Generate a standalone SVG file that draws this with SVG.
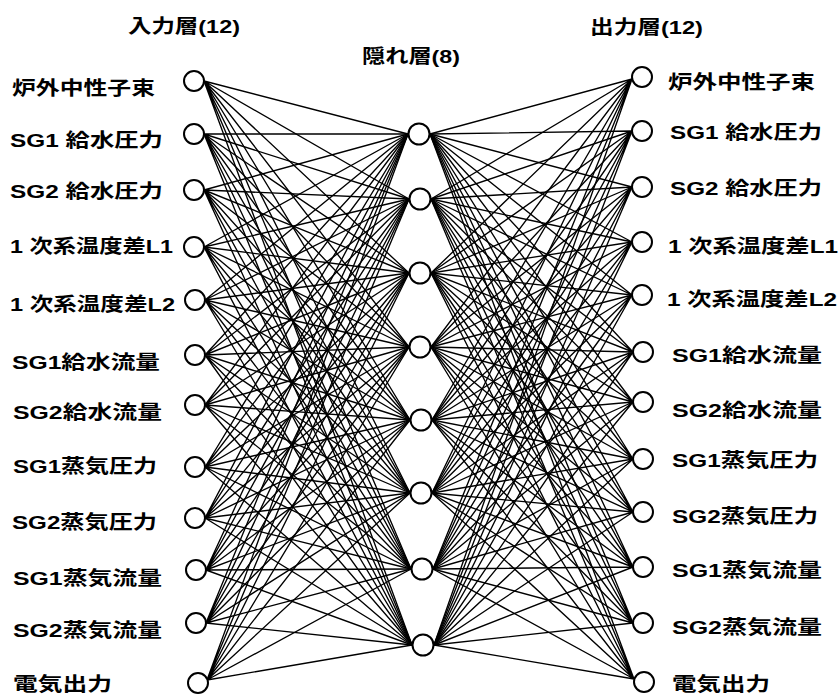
<svg xmlns="http://www.w3.org/2000/svg" width="840" height="696" viewBox="0 0 840 696">
<style>
.w{stroke:#000;stroke-width:1.35;fill:none}
.c{fill:#fff;stroke:#000;stroke-width:2}
.t{font-family:"Liberation Sans","Noto Sans CJK JP",sans-serif;font-size:19px;font-weight:bold;fill:#000}
</style>
<rect width="840" height="696" fill="#fff"/>
<g id="headers">
<text class="t" x="128" y="33" textLength="112" lengthAdjust="spacingAndGlyphs">入力層(12)</text>
<text class="t" x="362" y="63" textLength="98" lengthAdjust="spacingAndGlyphs">隠れ層(8)</text>
<text class="t" x="590" y="34" textLength="113" lengthAdjust="spacingAndGlyphs">出力層(12)</text>
</g>
<g id="connectors">
<path class="w" d="M204 81 408 134M204 81 409 199M204 81 409 273M204 81 409 347M204 81 410 420M204 81 410 493M204 81 411 569M204 81 412 645"/>
<path class="w" d="M204 134 408 134M204 134 409 199M204 134 409 273M204 134 409 347M204 134 410 420M204 134 410 493M204 134 411 569M204 134 412 645"/>
<path class="w" d="M204 190 408 134M204 190 409 199M204 190 409 273M204 190 409 347M204 190 410 420M204 190 410 493M204 190 411 569M204 190 412 645"/>
<path class="w" d="M204 247 408 134M204 247 409 199M204 247 409 273M204 247 409 347M204 247 410 420M204 247 410 493M204 247 411 569M204 247 412 645"/>
<path class="w" d="M205 300 408 134M205 300 409 199M205 300 409 273M205 300 409 347M205 300 410 420M205 300 410 493M205 300 411 569M205 300 412 645"/>
<path class="w" d="M205 355 408 134M205 355 409 199M205 355 409 273M205 355 409 347M205 355 410 420M205 355 410 493M205 355 411 569M205 355 412 645"/>
<path class="w" d="M205 405 408 134M205 405 409 199M205 405 409 273M205 405 409 347M205 405 410 420M205 405 410 493M205 405 411 569M205 405 412 645"/>
<path class="w" d="M205 467 408 134M205 467 409 199M205 467 409 273M205 467 409 347M205 467 410 420M205 467 410 493M205 467 411 569M205 467 412 645"/>
<path class="w" d="M205 518 408 134M205 518 409 199M205 518 409 273M205 518 409 347M205 518 410 420M205 518 410 493M205 518 411 569M205 518 412 645"/>
<path class="w" d="M206 570 408 134M206 570 409 199M206 570 409 273M206 570 409 347M206 570 410 420M206 570 410 493M206 570 411 569M206 570 412 645"/>
<path class="w" d="M206 623 408 134M206 623 409 199M206 623 409 273M206 623 409 347M206 623 410 420M206 623 410 493M206 623 411 569M206 623 412 645"/>
<path class="w" d="M207 680 408 134M207 680 409 199M207 680 409 273M207 680 409 347M207 680 410 420M207 680 410 493M207 680 411 569M207 680 412 645"/>
<path class="w" d="M632 79 430 134M632 79 431 199M632 79 431 273M632 79 431 347M632 79 432 420M632 79 432 493M632 79 433 569M632 79 434 645"/>
<path class="w" d="M632 131 430 134M632 131 431 199M632 131 431 273M632 131 431 347M632 131 432 420M632 131 432 493M632 131 433 569M632 131 434 645"/>
<path class="w" d="M632 187 430 134M632 187 431 199M632 187 431 273M632 187 431 347M632 187 432 420M632 187 432 493M632 187 433 569M632 187 434 645"/>
<path class="w" d="M632 242 430 134M632 242 431 199M632 242 431 273M632 242 431 347M632 242 432 420M632 242 432 493M632 242 433 569M632 242 434 645"/>
<path class="w" d="M632 295 430 134M632 295 431 199M632 295 431 273M632 295 431 347M632 295 432 420M632 295 432 493M632 295 433 569M632 295 434 645"/>
<path class="w" d="M633 352 430 134M633 352 431 199M633 352 431 273M633 352 431 347M633 352 432 420M633 352 432 493M633 352 433 569M633 352 434 645"/>
<path class="w" d="M633 402 430 134M633 402 431 199M633 402 431 273M633 402 431 347M633 402 432 420M633 402 432 493M633 402 433 569M633 402 434 645"/>
<path class="w" d="M633 459 430 134M633 459 431 199M633 459 431 273M633 459 431 347M633 459 432 420M633 459 432 493M633 459 433 569M633 459 434 645"/>
<path class="w" d="M633 512 430 134M633 512 431 199M633 512 431 273M633 512 431 347M633 512 432 420M633 512 432 493M633 512 433 569M633 512 434 645"/>
<path class="w" d="M633 567 430 134M633 567 431 199M633 567 431 273M633 567 431 347M633 567 432 420M633 567 432 493M633 567 433 569M633 567 434 645"/>
<path class="w" d="M633 623 430 134M633 623 431 199M633 623 431 273M633 623 431 347M633 623 432 420M633 623 432 493M633 623 433 569M633 623 434 645"/>
<path class="w" d="M634 679 430 134M634 679 431 199M634 679 431 273M634 679 431 347M634 679 432 420M634 679 432 493M634 679 433 569M634 679 434 645"/>
</g>
<g id="in1"><circle class="c" cx="194" cy="81" r="10"/><text class="t" x="12" y="95" textLength="143" lengthAdjust="spacingAndGlyphs">炉外中性子束</text></g>
<g id="in2"><circle class="c" cx="194" cy="134" r="10"/><text class="t" x="10" y="147" textLength="153" lengthAdjust="spacingAndGlyphs">SG1 給水圧力</text></g>
<g id="in3"><circle class="c" cx="194" cy="190" r="10"/><text class="t" x="10" y="198" textLength="153" lengthAdjust="spacingAndGlyphs">SG2 給水圧力</text></g>
<g id="in4"><circle class="c" cx="194" cy="247" r="10"/><text class="t" x="10" y="253" textLength="163" lengthAdjust="spacingAndGlyphs">1 次系温度差L1</text></g>
<g id="in5"><circle class="c" cx="195" cy="300" r="10"/><text class="t" x="10" y="311" textLength="165" lengthAdjust="spacingAndGlyphs">1 次系温度差L2</text></g>
<g id="in6"><circle class="c" cx="195" cy="355" r="10"/><text class="t" x="12" y="369" textLength="148" lengthAdjust="spacingAndGlyphs">SG1給水流量</text></g>
<g id="in7"><circle class="c" cx="195" cy="405" r="10"/><text class="t" x="13" y="419" textLength="149" lengthAdjust="spacingAndGlyphs">SG2給水流量</text></g>
<g id="in8"><circle class="c" cx="195" cy="467" r="10"/><text class="t" x="13" y="473" textLength="144" lengthAdjust="spacingAndGlyphs">SG1蒸気圧力</text></g>
<g id="in9"><circle class="c" cx="195" cy="518" r="10"/><text class="t" x="12" y="529" textLength="145" lengthAdjust="spacingAndGlyphs">SG2蒸気圧力</text></g>
<g id="in10"><circle class="c" cx="196" cy="570" r="10"/><text class="t" x="13" y="585" textLength="149" lengthAdjust="spacingAndGlyphs">SG1蒸気流量</text></g>
<g id="in11"><circle class="c" cx="196" cy="623" r="10"/><text class="t" x="13" y="637" textLength="149" lengthAdjust="spacingAndGlyphs">SG2蒸気流量</text></g>
<g id="in12"><circle class="c" cx="198" cy="683" r="10"/><text class="t" x="13" y="691" textLength="99" lengthAdjust="spacingAndGlyphs">電気出力</text></g>
<g id="h1"><circle class="c" cx="419" cy="134" r="10.5"/></g>
<g id="h2"><circle class="c" cx="420" cy="199" r="10.5"/></g>
<g id="h3"><circle class="c" cx="420" cy="273" r="10.5"/></g>
<g id="h4"><circle class="c" cx="420" cy="347" r="10.5"/></g>
<g id="h5"><circle class="c" cx="421" cy="420" r="10.5"/></g>
<g id="h6"><circle class="c" cx="421" cy="493" r="10.5"/></g>
<g id="h7"><circle class="c" cx="422" cy="569" r="10.5"/></g>
<g id="h8"><circle class="c" cx="423" cy="645" r="10.5"/></g>
<g id="out1"><circle class="c" cx="642" cy="77" r="10"/><text class="t" x="668" y="89" textLength="147" lengthAdjust="spacingAndGlyphs">炉外中性子束</text></g>
<g id="out2"><circle class="c" cx="642" cy="131" r="10"/><text class="t" x="670" y="139" textLength="152" lengthAdjust="spacingAndGlyphs">SG1 給水圧力</text></g>
<g id="out3"><circle class="c" cx="642" cy="187" r="10"/><text class="t" x="670" y="195" textLength="152" lengthAdjust="spacingAndGlyphs">SG2 給水圧力</text></g>
<g id="out4"><circle class="c" cx="642" cy="242" r="10"/><text class="t" x="668" y="253" textLength="170" lengthAdjust="spacingAndGlyphs">1 次系温度差L1</text></g>
<g id="out5"><circle class="c" cx="642" cy="295" r="10"/><text class="t" x="667" y="306" textLength="170" lengthAdjust="spacingAndGlyphs">1 次系温度差L2</text></g>
<g id="out6"><circle class="c" cx="643" cy="352" r="10"/><text class="t" x="672" y="362" textLength="150" lengthAdjust="spacingAndGlyphs">SG1給水流量</text></g>
<g id="out7"><circle class="c" cx="643" cy="402" r="10"/><text class="t" x="672" y="417" textLength="150" lengthAdjust="spacingAndGlyphs">SG2給水流量</text></g>
<g id="out8"><circle class="c" cx="643" cy="459" r="10"/><text class="t" x="672" y="467" textLength="146" lengthAdjust="spacingAndGlyphs">SG1蒸気圧力</text></g>
<g id="out9"><circle class="c" cx="643" cy="512" r="10"/><text class="t" x="672" y="523" textLength="146" lengthAdjust="spacingAndGlyphs">SG2蒸気圧力</text></g>
<g id="out10"><circle class="c" cx="643" cy="567" r="10"/><text class="t" x="672" y="577" textLength="150" lengthAdjust="spacingAndGlyphs">SG1蒸気流量</text></g>
<g id="out11"><circle class="c" cx="643" cy="623" r="10"/><text class="t" x="672" y="634" textLength="150" lengthAdjust="spacingAndGlyphs">SG2蒸気流量</text></g>
<g id="out12"><circle class="c" cx="644" cy="682" r="10"/><text class="t" x="672" y="691" textLength="98" lengthAdjust="spacingAndGlyphs">電気出力</text></g>
</svg>
